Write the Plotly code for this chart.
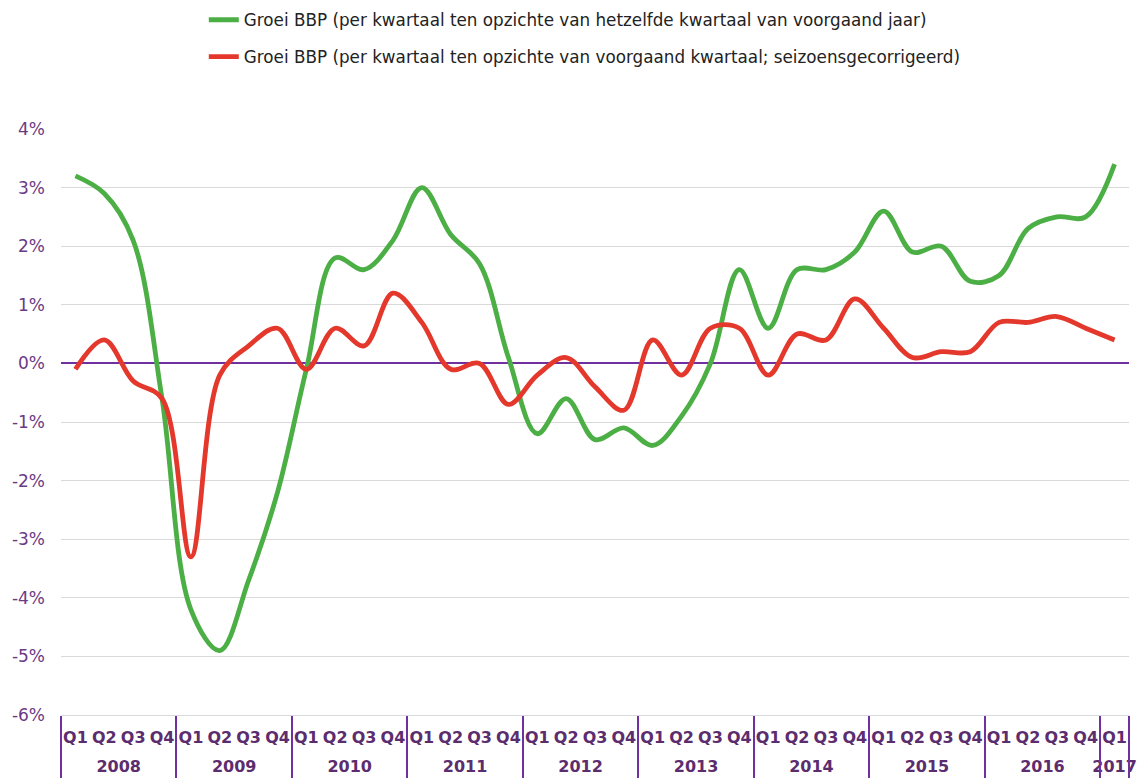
import plotly.graph_objects as go

years = ["2008"] * 4 + ["2009"] * 4 + ["2010"] * 4 + ["2011"] * 4 + ["2012"] * 4 \
    + ["2013"] * 4 + ["2014"] * 4 + ["2015"] * 4 + ["2016"] * 4 + ["2017"]
quarters = ["Q1", "Q2", "Q3", "Q4"] * 9 + ["Q1"]

# groei t.o.v. zelfde kwartaal vorig jaar (%)
yoy = [3.2, 2.9, 2.1, -0.6,
       -4.2, -4.9, -3.7, -2.2,
       -0.1, 1.8, 1.6, 2.1,
       3.0, 2.2, 1.7, 0.1,
       -1.2, -0.6, -1.3, -1.1,
       -1.4, -0.9, 0.0, 1.6,
       0.6, 1.6, 1.6, 1.9,
       2.6, 1.9, 2.0, 1.4,
       1.5, 2.3, 2.5, 2.5,
       3.4]

# groei t.o.v. vorig kwartaal, seizoensgecorrigeerd (%)
qoq = [-0.1, 0.4, -0.3, -0.6,
       -3.3, -0.2, 0.3, 0.6,
       -0.1, 0.6, 0.3, 1.2,
       0.7, -0.1, 0.0, -0.7,
       -0.2, 0.1, -0.4, -0.8,
       0.4, -0.2, 0.6, 0.6,
       -0.2, 0.5, 0.4, 1.1,
       0.6, 0.1, 0.2, 0.2,
       0.7, 0.7, 0.8, 0.6,
       0.4]

y_ticks = [4, 3, 2, 1, 0, -1, -2, -3, -4, -5, -6]
y_labels = [f"{v}%" for v in y_ticks]

# category keys, year centres and year boundaries for the two-level axis
cats = [f"{y} {q}" for y, q in zip(years, quarters)]
year_names = sorted(set(years))
year_pos = [sum(i for i, y in enumerate(years) if y == yr) / years.count(yr) for yr in year_names]
bounds = [-0.5] + [i - 0.5 for i in range(1, len(years)) if years[i] != years[i - 1]] + [len(years) - 0.5]
x_range = [-0.5, len(years) - 0.5]

purple = "#7030a0"
label_col = "#5c2d6e"
font = "DejaVu Sans, Verdana, sans-serif"

fig = go.Figure()
fig.add_trace(go.Scatter(
    x=cats, y=yoy, mode="lines",
    line=dict(color="#4caf45", width=4.8, shape="spline", smoothing=1),
    name="Groei BBP (per kwartaal ten opzichte van hetzelfde kwartaal van voorgaand jaar)",
    legendgroup="a",
))
fig.add_trace(go.Scatter(
    x=cats, y=qoq, mode="lines",
    line=dict(color="#e3382b", width=4.8, shape="spline", smoothing=1),
    name="Groei BBP (per kwartaal ten opzichte van voorgaand kwartaal; seizoensgecorrigeerd)",
    legendgroup="b",
))
# empty traces so the year-label axis and the divider axis get drawn
fig.add_trace(go.Scatter(x=[], y=[], xaxis="x2", showlegend=False, hoverinfo="skip"))
fig.add_trace(go.Scatter(x=[], y=[], xaxis="x3", showlegend=False, hoverinfo="skip"))

fig.update_layout(
    width=1147, height=778,
    margin=dict(l=61, r=18, t=129, b=63),
    plot_bgcolor="white", paper_bgcolor="white",
    font=dict(family=font, size=15, color="#222222"),
    legend=dict(
        orientation="v", x=0.1337, xanchor="left",
        y=0.997, yref="container", yanchor="top",
        tracegroupgap=12, font=dict(size=16.8, color="#222222"),
    ),
    showlegend=True,
    xaxis=dict(
        type="category", range=x_range, automargin=False,
        tickvals=cats, ticktext=quarters, tickangle=0,
        showgrid=False, showline=True, linecolor="#d9d9d9", linewidth=1,
        ticks="", ticklabelstandoff=8,
        tickfont=dict(family=font, size=16, color=label_col, weight="bold"),
    ),
    xaxis2=dict(
        overlaying="x", anchor="y", side="bottom", type="linear",
        range=x_range, automargin=False,
        tickvals=year_pos, ticktext=year_names, tickangle=0,
        showgrid=False, zeroline=False, showline=False,
        ticks="", ticklabelstandoff=40,
        tickfont=dict(family=font, size=16, color=label_col, weight="bold"),
    ),
    xaxis3=dict(
        overlaying="x", anchor="y", side="bottom", type="linear",
        range=x_range, automargin=False,
        tickvals=bounds, showticklabels=False,
        showgrid=False, zeroline=False, showline=False,
        ticks="outside", ticklen=70, tickwidth=2, tickcolor=purple,
    ),
    yaxis=dict(
        range=[-6, 4], tickvals=y_ticks, ticktext=y_labels, automargin=False,
        showgrid=True, gridcolor="#d9d9d9", gridwidth=1,
        zeroline=True, zerolinecolor=purple, zerolinewidth=2,
        tickfont=dict(family=font, size=17, color="#6b3a85"),
        ticks="", ticklabelstandoff=15,
    ),
)

# drop the browser's default 8px body margin so the figure sits at 0,0
fig.write_html(
    "out.html",
    config={"displayModeBar": False},
    post_script="document.body.style.margin='0px';",
)
